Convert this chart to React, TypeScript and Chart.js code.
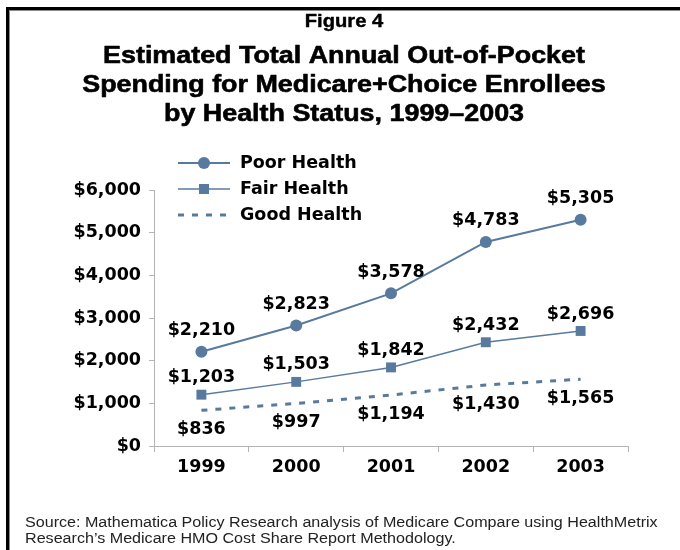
import React, { useEffect, useRef } from "react";
import { Chart, registerables } from "chart.js";

Chart.register(...registerables);

// ---- data ----
const years = ["1999", "2000", "2001", "2002", "2003"];
const poorHealth = [2210, 2823, 3578, 4783, 5305];
const fairHealth = [1203, 1503, 1842, 2432, 2696];
const goodHealth = [836, 997, 1194, 1430, 1565];
const seriesLabels = ["Poor Health", "Fair Health", "Good Health"];
const yMin = 0;
const yMax = 6000;
const yStep = 1000;
const figureLabel = "Figure 4";
const titleLines = [
  "Estimated Total Annual Out-of-Pocket",
  "Spending for Medicare+Choice Enrollees",
  "by Health Status, 1999\u20132003",
];
const sourceLines = [
  "Source: Mathematica Policy Research analysis of Medicare Compare using HealthMetrix",
  "Research\u2019s Medicare HMO Cost Share Report Methodology.",
];

// ---- styles ----
const LINE = "#587a9e";
const AXIS = "#b4b4b4";
const BOLD = "bold 17.5px 'DejaVu Sans', Verdana, sans-serif";
const ARIAL = "'Liberation Sans', Arial, Helvetica, sans-serif";
const labelOffsets = [-21, -17, 19];

const money = (v: number) => "$" + v.toLocaleString("en-US");

const stretchedText = (
  ctx: CanvasRenderingContext2D,
  text: string,
  x: number,
  y: number,
  font: string,
  sx: number,
  align: CanvasTextAlign,
  stroke = 0
) => {
  ctx.save();
  ctx.font = font;
  ctx.textAlign = align;
  ctx.textBaseline = "alphabetic";
  ctx.translate(x, y);
  ctx.scale(sx, 1);
  ctx.fillText(text, 0, 0);
  if (stroke > 0) {
    ctx.strokeStyle = ctx.fillStyle;
    ctx.lineWidth = stroke;
    ctx.lineJoin = "round";
    ctx.strokeText(text, 0, 0);
  }
  ctx.restore();
};

const dataLabelPlugin = {
  id: "dataLabels",
  afterDatasetsDraw(chart: any) {
    const ctx: CanvasRenderingContext2D = chart.ctx;
    ctx.save();
    ctx.font = BOLD;
    ctx.fillStyle = "#000";
    ctx.textAlign = "center";
    ctx.textBaseline = "middle";
    chart.data.datasets.forEach((ds: any, i: number) => {
      const meta = chart.getDatasetMeta(i);
      meta.data.forEach((pt: any, j: number) => {
        ctx.fillText(money(ds.data[j]), pt.x, pt.y + labelOffsets[i]);
      });
    });
    ctx.restore();
  },
};

const decorPlugin = {
  id: "decor",
  afterDraw(chart: any) {
    const ctx: CanvasRenderingContext2D = chart.ctx;
    ctx.save();
    // frame
    ctx.fillStyle = "#000";
    ctx.fillRect(6, 7, 674, 3);
    ctx.fillRect(6, 7, 3, 543);
    ctx.fillStyle = "#8a8a8a";
    ctx.fillRect(9, 10, 671, 1);
    ctx.fillRect(9, 10, 1, 540);

    // titles
    ctx.fillStyle = "#000";
    stretchedText(ctx, figureLabel, 344, 27, `bold 18px ${ARIAL}`, 1.12, "center", 0.4);
    titleLines.forEach((t, i) =>
      stretchedText(ctx, t, 344, 63 + i * 29, `bold 24px ${ARIAL}`, 1.12, "center", 0.6)
    );

    // legend
    chart.data.datasets.forEach((ds: any, i: number) => {
      const y = 163 + i * 26;
      ctx.save();
      ctx.strokeStyle = ds.borderColor;
      ctx.lineWidth = ds.borderWidth;
      ctx.setLineDash(ds.borderDash || []);
      ctx.beginPath();
      ctx.moveTo(178, y);
      ctx.lineTo(230, y);
      ctx.stroke();
      ctx.setLineDash([]);
      ctx.fillStyle = ds.borderColor;
      if (ds.pointRadius > 0) {
        if (ds.pointStyle === "rect") {
          ctx.fillRect(199, y - 5, 10, 10);
        } else {
          ctx.beginPath();
          ctx.arc(204, y, 6, 0, Math.PI * 2);
          ctx.fill();
        }
      }
      ctx.fillStyle = "#000";
      ctx.font = BOLD;
      ctx.textAlign = "left";
      ctx.textBaseline = "middle";
      ctx.fillText(ds.label, 240, y);
      ctx.restore();
    });

    // source
    ctx.fillStyle = "#222";
    sourceLines.forEach((t, i) =>
      stretchedText(ctx, t, 25, 527 + i * 16, `14px ${ARIAL}`, 1.15, "left")
    );
    ctx.restore();
  },
};

export default function App() {
  const ref = useRef<HTMLCanvasElement>(null);

  useEffect(() => {
    const chart = new Chart(ref.current as HTMLCanvasElement, {
      type: "line",
      data: {
        labels: years,
        datasets: [
          {
            label: seriesLabels[0],
            data: poorHealth,
            borderColor: LINE,
            backgroundColor: LINE,
            borderWidth: 2,
            pointStyle: "circle",
            pointRadius: 6,
            pointBorderWidth: 0,
            pointBackgroundColor: LINE,
          },
          {
            label: seriesLabels[1],
            data: fairHealth,
            borderColor: LINE,
            backgroundColor: LINE,
            borderWidth: 1.5,
            pointStyle: "rect",
            pointRadius: 7,
            pointBorderWidth: 0,
            pointBackgroundColor: LINE,
          },
          {
            label: seriesLabels[2],
            data: goodHealth,
            borderColor: LINE,
            backgroundColor: LINE,
            borderWidth: 3,
            borderDash: [6, 8],
            pointRadius: 0,
          },
        ],
      } as any,
      options: {
        animation: false,
        responsive: false,
        devicePixelRatio: 1,
        events: [],
        layout: { padding: { left: 0, right: 52, top: 190, bottom: 64 } },
        plugins: {
          legend: { display: false },
          title: { display: false },
          tooltip: { enabled: false },
        },
        scales: {
          x: {
            type: "category",
            offset: true,
            grid: {
              offset: true,
              drawOnChartArea: false,
              drawTicks: true,
              tickLength: 6,
              color: AXIS,
            },
            border: { color: AXIS, width: 1 },
            ticks: { font: { family: "'DejaVu Sans', Verdana, sans-serif", weight: "bold", size: 17.5 }, color: "#000", padding: 5 },
            afterFit: (s: any) => {
              s.height = 40;
            },
          },
          y: {
            min: yMin,
            max: yMax,
            grid: { drawOnChartArea: false, drawTicks: true, tickLength: 5, color: AXIS },
            border: { color: AXIS, width: 1 },
            ticks: {
              stepSize: yStep,
              callback: (v: any) => money(Number(v)),
              font: { family: "'DejaVu Sans', Verdana, sans-serif", weight: "bold", size: 17.5 },
              color: "#000",
              padding: 8,
            },
            afterFit: (s: any) => {
              s.width = 154;
            },
          },
        },
      } as any,
      plugins: [dataLabelPlugin, decorPlugin],
    });
    return () => chart.destroy();
  }, []);

  return (
    <div style={{ position: "absolute", left: 0, top: 0, width: 680, height: 550, background: "#fff" }}>
      <canvas ref={ref} width={680} height={550} style={{ display: "block", width: 680, height: 550 }} />
    </div>
  );
}
